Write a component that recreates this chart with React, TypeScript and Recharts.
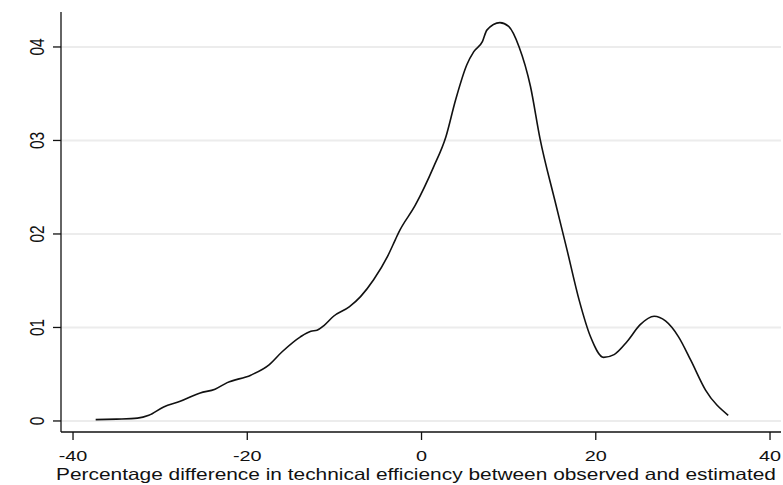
import React from "react";
import { LineChart, Line, XAxis, YAxis, CartesianGrid } from "recharts";

const xValues = [
  -37.4, -35.0, -32.6, -31.3, -29.6, -27.7, -25.4, -23.7, -22.3, -19.6, -17.5, -16.0,
  -13.9, -12.7, -12.0, -11.2, -10.1, -8.3, -7.0, -5.5, -3.9, -3.0, -2.6, -0.7, 1.4,
  2.8, 3.9, 5.2, 6.0, 7.0, 7.5, 9.0, 10.0, 11.2, 12.5, 13.6, 15.3, 16.7, 18.1, 19.4,
  20.9, 22.1, 23.6, 25.1, 26.7, 28.0, 29.5, 30.9, 32.6, 35.2,
];
const densityValues = [
  0.00014, 0.0002, 0.0003, 0.0006, 0.0015, 0.0021, 0.003, 0.0034, 0.0041, 0.0049, 0.006, 0.0074,
  0.009, 0.0096, 0.0097, 0.0102, 0.0112, 0.0122, 0.0133, 0.0151, 0.0176, 0.0194, 0.0202, 0.0231, 0.0272,
  0.0304, 0.0343, 0.0381, 0.0395, 0.0406, 0.0418, 0.0426, 0.0422, 0.04, 0.0358, 0.0302, 0.0236, 0.0183, 0.0129, 0.009,
  0.0068, 0.0071, 0.0085, 0.0103, 0.0112, 0.0107, 0.009, 0.0065, 0.0033, 0.0006,
];
const xTicks = [-40, -20, 0, 20, 40];
const yTicks = [0, 0.01, 0.02, 0.03, 0.04];
const xLabel = "Percentage difference in technical efficiency between observed and estimated";

const data = xValues.map((x, i) => ({ x, d: densityValues[i] }));

const FONT = "'Liberation Sans', Arial, Helvetica, sans-serif";
const STRETCH = 1.28;

const fmtY = (v: number) => (v === 0 ? "0" : v.toFixed(2).replace("0.", ""));

const XTick = (props: any) => {
  const { x, payload } = props;
  return (
    <g transform={`translate(${x},461) scale(${STRETCH},1)`}>
      <text textAnchor="middle" fontSize={15.5} fill="#111" fontFamily={FONT}>
        {payload.value}
      </text>
    </g>
  );
};

const YTick = (props: any) => {
  const { y, payload } = props;
  return (
    <g transform={`translate(44,${y}) scale(${STRETCH},1) rotate(-90)`}>
      <text textAnchor="middle" fontSize={15.5} fill="#111" fontFamily={FONT}>
        {fmtY(payload.value)}
      </text>
    </g>
  );
};

export default function App() {
  return (
    <div style={{ width: 783, height: 485, background: "#fff" }}>
      <style>{"body{margin:0;}"}</style>
      <LineChart
        width={783}
        height={485}
        data={data}
        margin={{ top: 12, right: 2, bottom: 0, left: 0 }}
      >
        <CartesianGrid
          vertical={false}
          horizontal={true}
          stroke="#ececec"
          strokeWidth={2}
          horizontalValues={yTicks}
        />
        <XAxis
          dataKey="x"
          type="number"
          height={53}
          domain={[-41.38, 41.26]}
          ticks={xTicks}
          allowDataOverflow
          tickSize={8}
          tick={<XTick />}
          axisLine={{ stroke: "#111", strokeWidth: 1.3 }}
          tickLine={{ stroke: "#111", strokeWidth: 1.3 }}
        />
        <YAxis
          dataKey="d"
          type="number"
          width={61}
          domain={[-0.00118, 0.04374]}
          ticks={yTicks}
          allowDataOverflow
          tickSize={8}
          tick={<YTick />}
          axisLine={{ stroke: "#111", strokeWidth: 1.3 }}
          tickLine={{ stroke: "#111", strokeWidth: 1.3 }}
        />
        <Line
          type="monotone"
          dataKey="d"
          stroke="#111"
          strokeWidth={1.6}
          dot={false}
          isAnimationActive={false}
        />
        <text
          x={56}
          y={480}
          fontSize={16.5}
          fill="#111"
          fontFamily={FONT}
          textLength={720}
          lengthAdjust="spacingAndGlyphs"
        >
          {xLabel}
        </text>
      </LineChart>
    </div>
  );
}
